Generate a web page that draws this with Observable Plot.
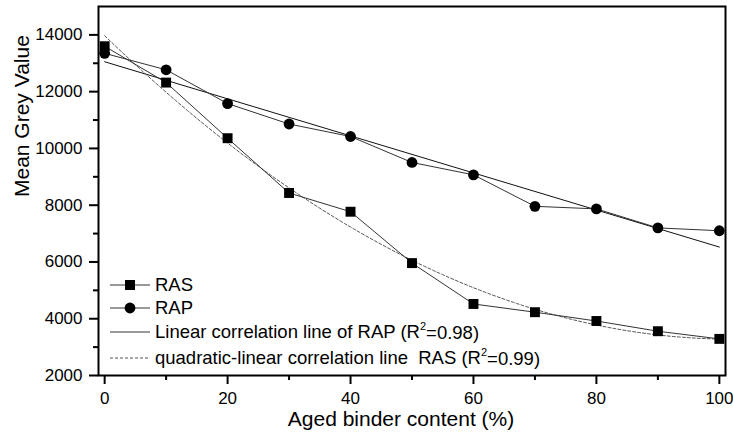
<!DOCTYPE html>
<html>
<head>
<meta charset="utf-8">
<script src="https://cdn.jsdelivr.net/npm/d3@7"></script>
<script src="https://cdn.jsdelivr.net/npm/@observablehq/plot@0.6"></script>
<style>
  body { margin: 0; background: #fff; }
  #chart { position: relative; width: 733px; height: 438px; }
  #chart svg { display: block; }
</style>
</head>
<body>
<div id="chart"></div>
<script>
// Aged binder content (%) of the mixes
const binderContent = [0, 10, 20, 30, 40, 50, 60, 70, 80, 90, 100];
// Mean grey value measured for each mix
const rasGrey = [13600, 12320, 10360, 8430, 7770, 5960, 4520, 4230, 3920, 3560, 3290];
const rapGrey = [13350, 12770, 11580, 10860, 10420, 9505, 9070, 7960, 7870, 7200, 7100];

// Axis ticks
const xMajorTicks = [0, 20, 40, 60, 80, 100];
const xMinorTicks = [10, 30, 50, 70, 90];
const yMajorTicks = [2000, 4000, 6000, 8000, 10000, 12000, 14000];
const yMinorTicks = [3000, 5000, 7000, 9000, 11000, 13000];

// Legend entries
const seriesNames = ["RAS", "RAP"];
const fitNames = ["Linear correlation line of RAP", "quadratic-linear correlation line  RAS"];
const fitR2 = ["0.98", "0.99"];

const ras = binderContent.map((x, i) => ({x, y: rasGrey[i]}));
const rap = binderContent.map((x, i) => ({x, y: rapGrey[i]}));

// Least-squares quadratic fit of the RAS series
function quadraticFit(pts) {
  let s0 = 0, s1 = 0, s2 = 0, s3 = 0, s4 = 0, t0 = 0, t1 = 0, t2 = 0;
  for (const {x, y} of pts) {
    s0 += 1; s1 += x; s2 += x * x; s3 += x ** 3; s4 += x ** 4;
    t0 += y; t1 += x * y; t2 += x * x * y;
  }
  const M = [[s0, s1, s2, t0], [s1, s2, s3, t1], [s2, s3, s4, t2]];
  for (let c = 0; c < 3; c++) {
    for (let r = c + 1; r < 3; r++) {
      const f = M[r][c] / M[c][c];
      for (let k = c; k < 4; k++) M[r][k] -= f * M[c][k];
    }
  }
  const coef = [0, 0, 0];
  for (let r = 2; r >= 0; r--) {
    let v = M[r][3];
    for (let k = r + 1; k < 3; k++) v -= M[r][k] * coef[k];
    coef[r] = v / M[r][r];
  }
  return coef;
}
const [qa, qb, qc] = quadraticFit(ras);
const [xMin, xMax] = d3.extent(binderContent);
const rasCurve = d3.range(xMin, xMax + 0.5, 0.5).map(x => ({x, y: qa + qb * x + qc * x * x}));

const font = "'Liberation Sans', Arial, sans-serif";

const chart = Plot.plot({
  width: 733,
  height: 438,
  marginLeft: 98,
  marginRight: 8,
  marginTop: 6,
  marginBottom: 63,
  style: {fontFamily: font, color: "#000", background: "#fff", overflow: "visible"},
  x: {domain: [-1, 101]},
  y: {domain: [2000, 15000]},
  marks: [
    Plot.axisX({ticks: xMajorTicks, tickSize: 9, tickPadding: 7, fontSize: 17, strokeWidth: 2, label: null}),
    Plot.axisX({ticks: xMinorTicks, tickSize: 5, tickFormat: () => "", strokeWidth: 2, label: null}),
    Plot.axisY({ticks: yMajorTicks, tickSize: 9, tickPadding: 7, fontSize: 17, strokeWidth: 2, tickFormat: d => String(d), label: null}),
    Plot.axisY({ticks: yMinorTicks, tickSize: 5, tickFormat: () => "", strokeWidth: 2, label: null}),
    Plot.text(["Aged binder content (%)"], {frameAnchor: "bottom", dx: -11, dy: 50, fontSize: 21}),
    Plot.text(["Mean Grey Value"], {frameAnchor: "left", rotate: -90, dx: -76, dy: 6, fontSize: 21}),
    // fitted correlation lines
    Plot.linearRegressionY(rap, {x: "x", y: "y", ci: 0, stroke: "#111", strokeWidth: 1}),
    Plot.line(rasCurve, {x: "x", y: "y", stroke: "#555", strokeWidth: 1, strokeDasharray: "3,2"}),
    // measured series
    Plot.line(ras, {x: "x", y: "y", stroke: "#333", strokeWidth: 1}),
    Plot.line(rap, {x: "x", y: "y", stroke: "#333", strokeWidth: 1}),
    Plot.dot(ras, {x: "x", y: "y", symbol: "square", r: 5.6, fill: "#000", stroke: "none"}),
    Plot.dot(rap, {x: "x", y: "y", symbol: "circle", r: 5.4, fill: "#000", stroke: "none"}),
    Plot.frame({stroke: "#000", strokeWidth: 2})
  ]
});

document.getElementById("chart").appendChild(chart);

// In-plot legend, lower left
const svg = d3.select(chart);
const legend = svg.append("g")
  .attr("font-family", font)
  .attr("font-size", 18.5)
  .attr("text-anchor", "start")
  .attr("fill", "#000");
const rowY = [285, 308, 332, 358];
const entries = [
  {name: seriesNames[0], marker: "square", dash: null},
  {name: seriesNames[1], marker: "circle", dash: null},
  {name: fitNames[0], r2: fitR2[0], marker: null, dash: null},
  {name: fitNames[1], r2: fitR2[1], marker: null, dash: "3,2"}
];
entries.forEach((e, i) => {
  const g = legend.append("g").attr("transform", `translate(0,${rowY[i]})`);
  g.append("line")
    .attr("x1", 110).attr("x2", 150).attr("y1", 0).attr("y2", 0)
    .attr("stroke", e.dash ? "#555" : "#333").attr("stroke-width", 1)
    .attr("stroke-dasharray", e.dash);
  if (e.marker === "square") {
    g.append("rect").attr("x", 125).attr("y", -5).attr("width", 10).attr("height", 10).attr("fill", "#000");
  } else if (e.marker === "circle") {
    g.append("circle").attr("cx", 130).attr("cy", 0).attr("r", 5.4).attr("fill", "#000");
  }
  const t = g.append("text").attr("x", 155).attr("dy", "0.35em").attr("text-anchor", "start");
  if (e.r2) {
    t.append("tspan").text(`${e.name} (R`);
    t.append("tspan").attr("font-size", 11).attr("dy", "-0.75em").text("2");
    t.append("tspan").attr("dy", "0.45em").text(`=${e.r2})`);
  } else {
    t.text(e.name);
  }
});
</script>
</body>
</html>
